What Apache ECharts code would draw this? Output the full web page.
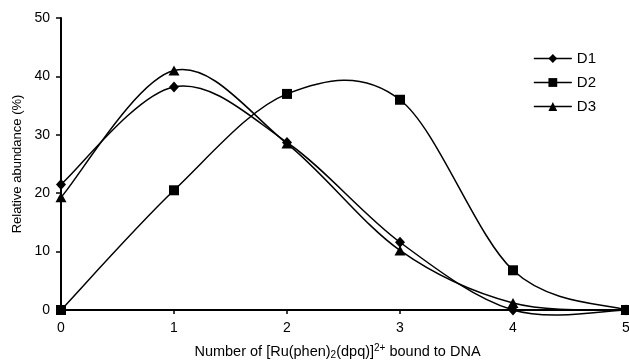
<!DOCTYPE html>
<html>
<head>
<meta charset="utf-8">
<script src="https://cdn.jsdelivr.net/npm/echarts@6/dist/echarts.min.js"></script>
<style>
html, body { margin: 0; padding: 0; background: #fff; }
#chart { width: 629px; height: 360px; }
</style>
</head>
<body>
<div id="chart"></div>
<script>
const categories = ['0', '1', '2', '3', '4', '5'];
const d1 = [21.5, 38.2, 28.7, 11.6, 0, 0];
const d2 = [0, 20.5, 37, 36, 6.8, 0];
const d3 = [19.3, 41, 28.5, 10.2, 1.2, 0];
const yTicks = [0, 10, 20, 30, 40, 50];

const font = 'Arial, "Liberation Sans", sans-serif';
const chart = echarts.init(document.getElementById('chart'));

// spreadsheet-style smoothed curve: one bezier segment per data point,
// control points from the neighbouring points (via the axis scales)
const curve = (vals) => (params, api) => {
    const i = params.dataIndex;
    const n = vals.length;
    if (i >= n - 1) return;
    const p = k => {
        const j = Math.max(0, Math.min(n - 1, k));
        return api.coord([j, vals[j]]);
    };
    const p0 = p(i - 1), p1 = p(i), p2 = p(i + 1), p3 = p(i + 2);
    const t = 1 / 6;
    return {
        type: 'bezierCurve',
        shape: {
            x1: p1[0], y1: p1[1], x2: p2[0], y2: p2[1],
            cpx1: p1[0] + (p2[0] - p0[0]) * t,
            cpy1: p1[1] + (p2[1] - p0[1]) * t,
            cpx2: p2[0] - (p3[0] - p1[0]) * t,
            cpy2: p2[1] - (p3[1] - p1[1]) * t
        },
        style: { stroke: '#000', lineWidth: 1.5, fill: null }
    };
};

const marks = (name, data, symbol, size) => ({
    name: name,
    type: 'line',
    data: data.map((v, i) => [i, v]),
    symbol: symbol,
    symbolSize: size,
    showSymbol: true,
    lineStyle: { width: 0, opacity: 0 },
    itemStyle: { color: '#000' },
    z: 4
});

const line = (name, data) => ({
    name: name + ' curve',
    type: 'custom',
    data: data.map((v, i) => [i, v]),
    encode: { x: 0, y: 1 },
    renderItem: curve(data),
    z: 3
});

chart.setOption({
    animation: false,
    textStyle: { fontFamily: font, color: '#000' },
    grid: { left: 61, right: 3, top: 18, bottom: 50, outerBoundsMode: 'none', containLabel: false },
    legend: {
        right: 28,
        top: 46,
        orient: 'vertical',
        itemWidth: 38,
        itemHeight: 11,
        itemGap: 9,
        lineStyle: { color: '#000', width: 1.5, opacity: 1 },
        textStyle: { fontSize: 15, color: '#000', fontFamily: font },
        data: ['D1', 'D2', 'D3']
    },
    xAxis: {
        type: 'value',
        min: 0,
        max: 5,
        interval: 1,
        name: 'Number of [Ru(phen){s|2}(dpq)]{p|2+} bound to DNA',
        nameLocation: 'middle',
        nameGap: 33,
        nameTextStyle: {
            fontSize: 14.5,
            color: '#000',
            padding: [0, 12, 0, 0],
            rich: {
                s: { fontSize: 10, verticalAlign: 'bottom', padding: [7, 0, 0, 0] },
                p: { fontSize: 10, verticalAlign: 'top', padding: [0, 0, 7, 0] }
            }
        },
        axisLine: { lineStyle: { color: '#000', width: 2 } },
        axisTick: { show: true, length: 4, lineStyle: { color: '#000', width: 1.5 } },
        axisLabel: { fontSize: 14, color: '#000', margin: 11,
            formatter: v => categories[v] },
        splitLine: { show: false }
    },
    yAxis: {
        type: 'value',
        min: 0,
        max: 50,
        interval: 10,
        name: 'Relative abundance (%)',
        nameLocation: 'middle',
        nameGap: 35,
        nameTextStyle: { fontSize: 13, color: '#000' },
        axisLine: { show: true, lineStyle: { color: '#000', width: 2 } },
        axisTick: { show: true, length: 5, lineStyle: { color: '#000', width: 1.5 } },
        axisLabel: { fontSize: 14, color: '#000', margin: 11,
            formatter: v => yTicks.includes(v) ? String(v) : '' },
        splitLine: { show: false }
    },
    series: [
        line('D1', d1),
        line('D2', d2),
        line('D3', d3),
        marks('D1', d1, 'diamond', [10, 11]),
        marks('D2', d2, 'rect', 10),
        marks('D3', d3, 'triangle', [11, 10])
    ]
});
</script>
</body>
</html>
